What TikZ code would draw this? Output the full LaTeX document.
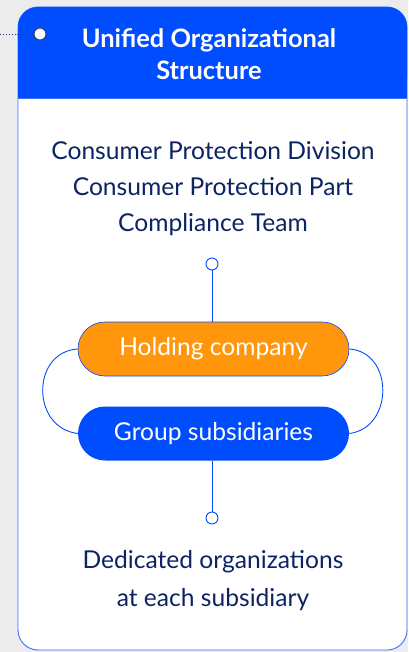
\documentclass[tikz,border=0pt]{standalone}
\usepackage{fontspec}
\setmainfont{Lato}
\definecolor{bg}{RGB}{236,236,236}
\definecolor{cblue}{RGB}{0,76,255}
\definecolor{cborder}{RGB}{60,110,250}
\definecolor{corange}{RGB}{255,150,12}
\definecolor{navy}{RGB}{12,36,100}
\definecolor{dotc}{RGB}{40,60,120}
\tikzset{
  pill/.style={rounded corners=27pt, minimum width=271pt, minimum height=54pt, inner sep=0pt, text=white, font=\fontsize{24.6}{25}\selectfont},
  bodytext/.style={text=navy, align=center, font=\fontsize{24.6}{36}\selectfont},
  link/.style={draw=cblue, line width=0.9pt},
  endcirc/.style={circle, draw=cblue, fill=white, line width=0.9pt, minimum size=12pt, inner sep=0pt}
}
\begin{document}
\begin{tikzpicture}[x=1pt,y=-1pt]
\fill[bg] (0,0) rectangle (408,652);
\useasboundingbox (0,0) rectangle (408,652);
% card
\draw[cborder, line width=0.9pt, fill=white, rounded corners=20pt] (18,7) rectangle (407,650);
\fill[cblue, rounded corners=20pt] (18,7) -- (407,7) -- (407,98) -- (18,98) -- cycle;
\fill[cblue] (18,60) rectangle (407,98);
\draw[cborder, line width=0.9pt] (18,98) -- (407,98);
% dotted lead
\coordinate (lead) at (0,34);
\node[circle, draw=dotc, fill=white, line width=0.9pt, minimum size=12pt, inner sep=0pt] (hdot) at (40,34) {};
\draw[dotc, dotted, line width=0.9pt] (lead) -- (hdot);
% header
\node[text=white, align=center, font=\bfseries\fontsize{25.4}{32}\selectfont] (title) at (209,54) {Unified Organizational\\Structure};
% top text
\node[bodytext] (top) at (213,188.5) {Consumer Protection Division\\Consumer Protection Part\\Compliance Team};
% pills
\node[pill, fill=corange, draw=cblue, line width=0.6pt] (hold) at (213.5,349) {\raisebox{-1.5pt}{Holding company}};
\node[pill, fill=cblue] (grp) at (213.5,433.5) {\raisebox{-1.5pt}{Group subsidiaries}};
% circles
\node[endcirc] (c1) at (212,264) {};
\node[endcirc] (c2) at (212,518) {};
\draw[link] (c1) -- (c1 |- hold.north);
\draw[link] (c2 |- grp.south) -- (c2);
% side arcs
\draw[link] (hold.west) .. controls (31,352) and (31,428) .. (grp.west);
\draw[link] (hold.east) .. controls (394,352) and (394,428) .. (grp.east);
% bottom text
\node[bodytext, font=\fontsize{24.6}{38}\selectfont] (bot) at (213,580.5) {Dedicated organizations\\at each subsidiary};
\end{tikzpicture}
\end{document}
